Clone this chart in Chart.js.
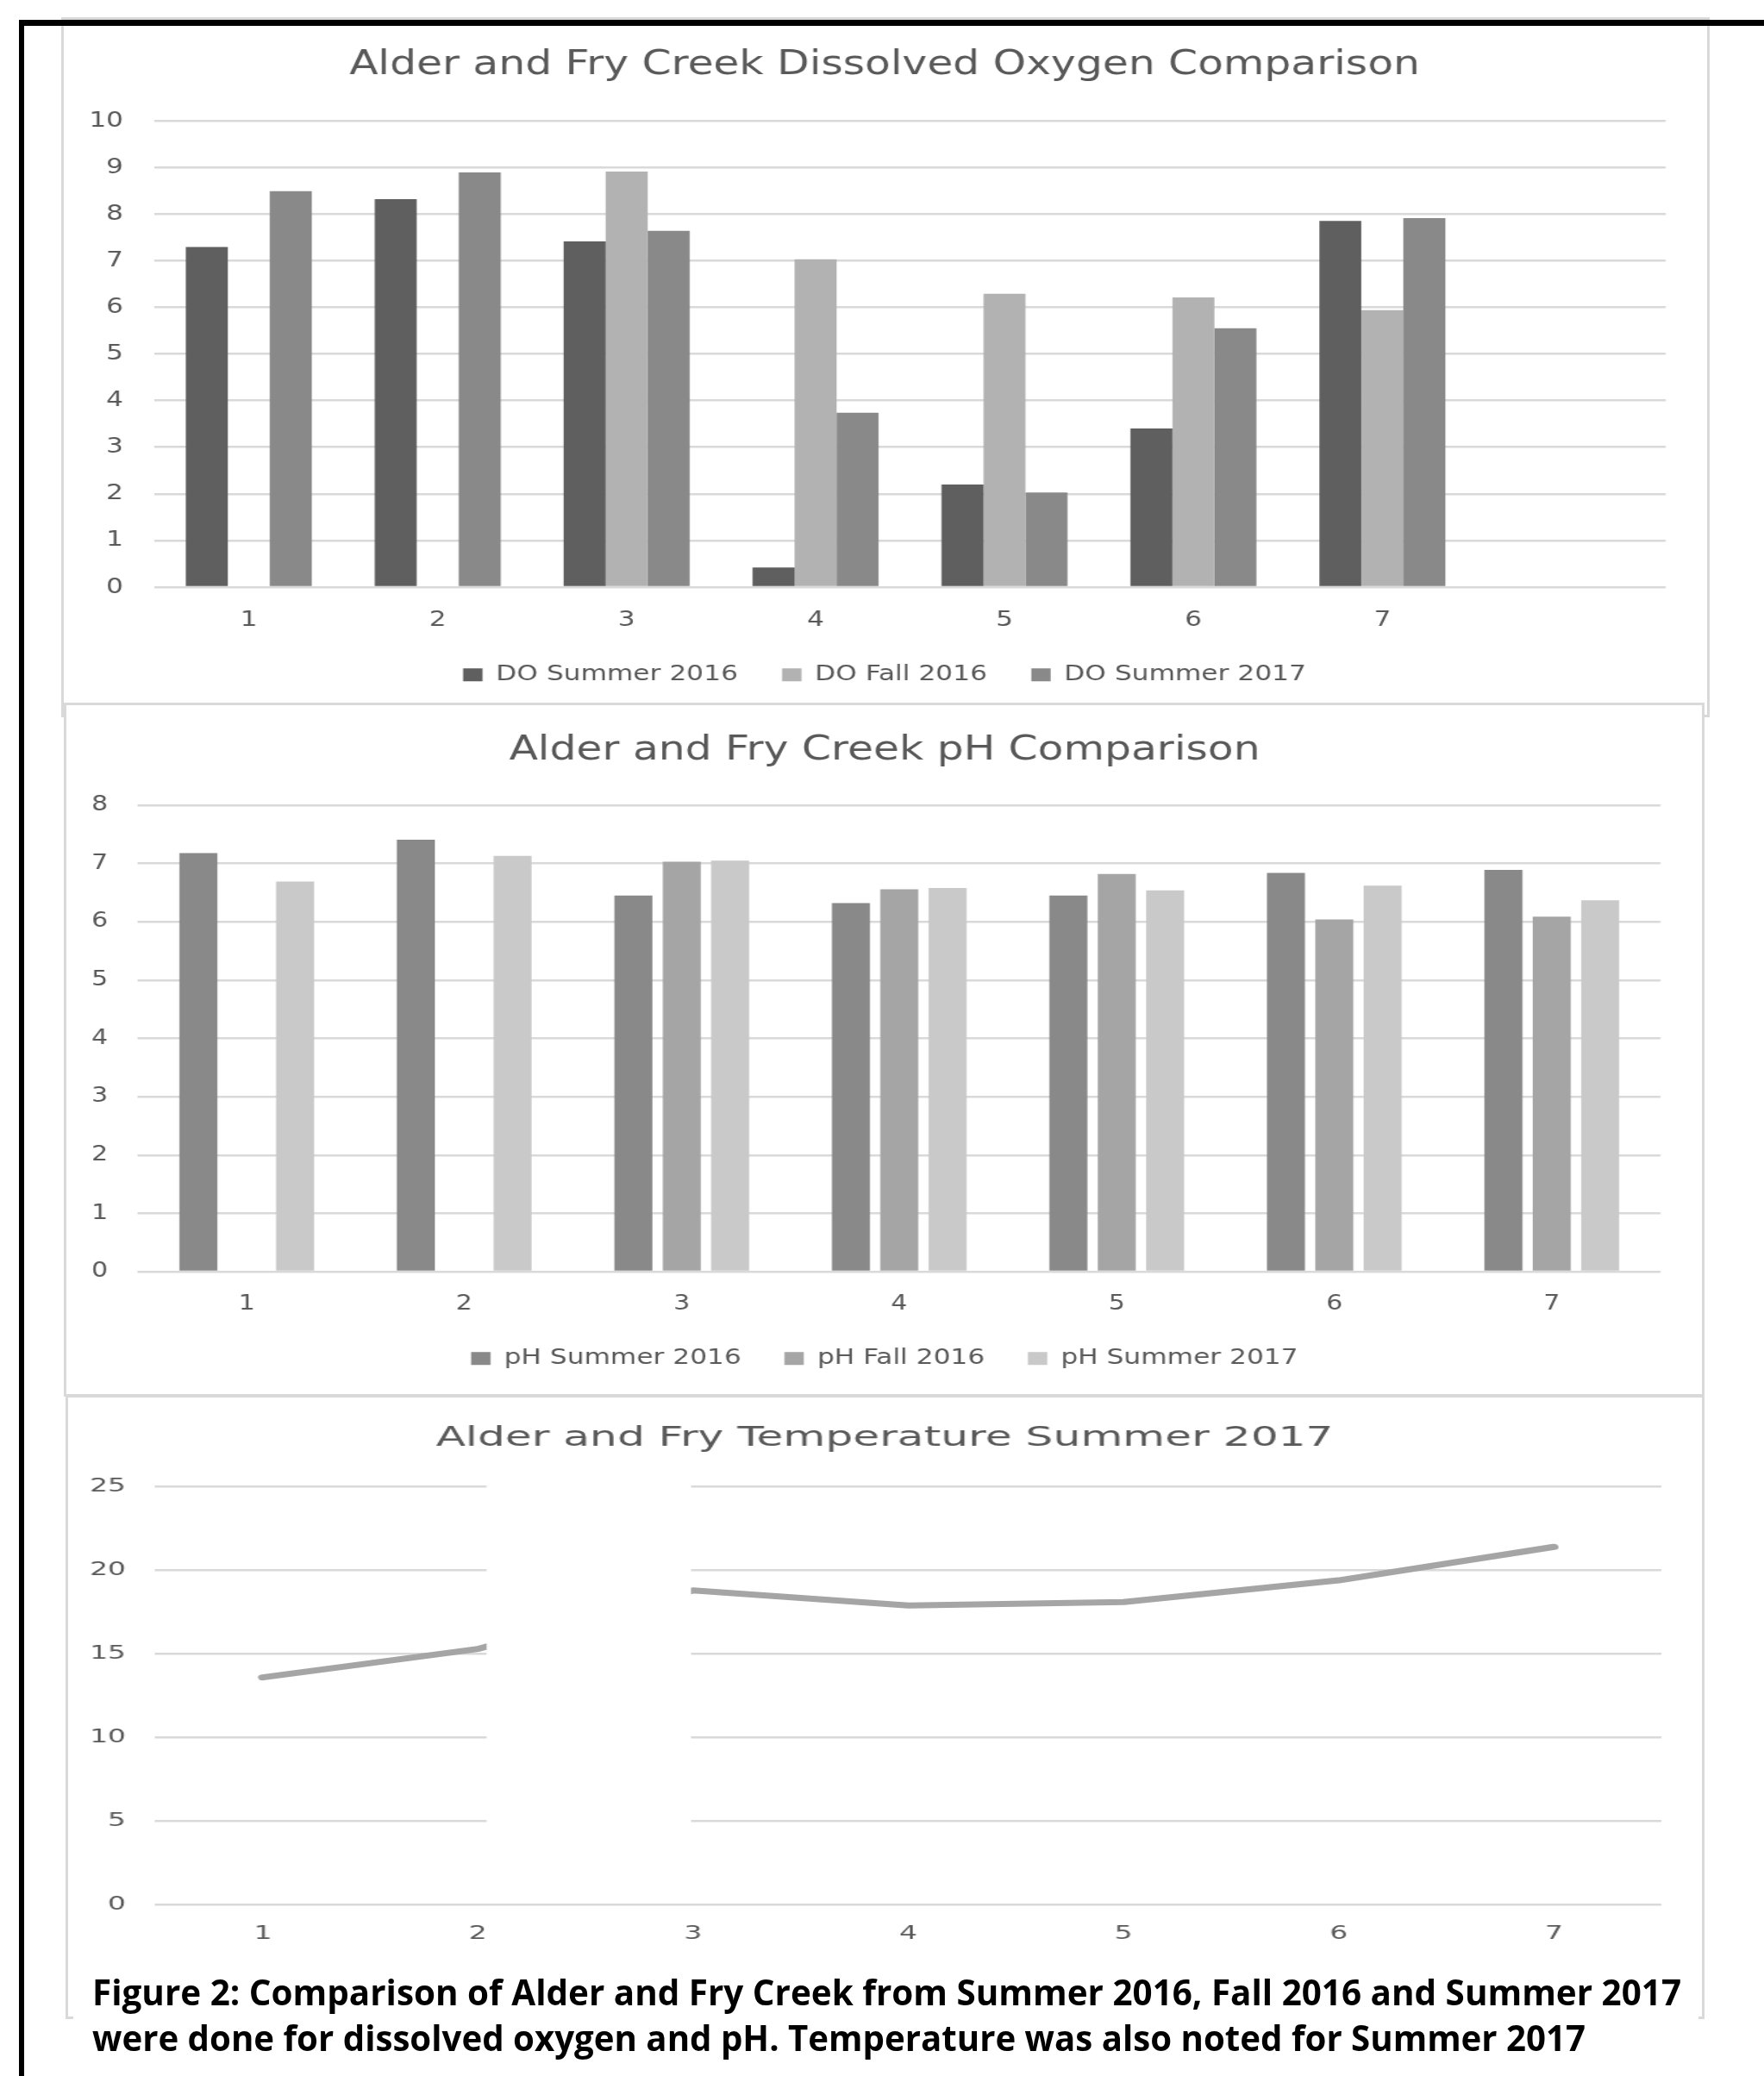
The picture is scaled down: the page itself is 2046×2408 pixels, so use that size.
<!DOCTYPE html>
<html>
<head>
<meta charset="utf-8">
<script src="https://cdn.jsdelivr.net/npm/chart.js@4.4.1/dist/chart.umd.min.js"></script>
<style>
  html, body { margin: 0; padding: 0; background: #fff; }
  body { width: 2046px; height: 2408px; position: relative; overflow: hidden; }
  .box { position: absolute; box-sizing: border-box; border: 3px solid #d9d9d9; background: #fff; overflow: hidden; }
  .box canvas { position: absolute; left: 0; top: 0; transform-origin: 0 0; }
  #frameTop { position: absolute; left: 22px; top: 23px; width: 2024px; height: 7px; background: #000; z-index: 10; }
  #frameLeft { position: absolute; left: 22px; top: 23px; width: 6px; height: 2385px; background: #000; z-index: 10; }
  #caption { position: absolute; left: 85px; top: 2284px; width: 1885px; height: 124px; background: #fff; z-index: 5;
             font-family: "Open Sans", sans-serif; font-weight: 700; font-size: 42px; line-height: 42px; color: #000; }
  #caption span { position: absolute; left: 22px; white-space: nowrap; transform-origin: 0 0; }
</style>
</head>
<body>
<div class="box" id="boxDO" style="z-index:1"></div>
<div class="box" id="boxPH" style="z-index:2"></div>
<div class="box" id="boxTemp" style="z-index:3"></div>
<div id="caption">
  <span id="cap1" style="top:5px">Figure 2: Comparison of Alder and Fry Creek from Summer 2016, Fall 2016 and Summer 2017</span>
  <span id="cap2" style="top:58px">were done for dissolved oxygen and pH. Temperature was also noted for Summer 2017</span>
</div>
<div id="frameTop"></div>
<div id="frameLeft"></div>

<script>
// ---- data ----
const doSites = ["1", "2", "3", "4", "5", "6", "7", ""];
const doSummer2016 = [7.29, 8.32, 7.41, 0.42, 2.20, 3.40, 7.85, null];
const doFall2016 = [null, null, 8.91, 7.03, 6.29, 6.21, 5.94, null];
const doSummer2017 = [8.49, 8.89, 7.64, 3.74, 2.03, 5.55, 7.91, null];
const doAxis = { max: 10, step: 1 };

const phSites = ["1", "2", "3", "4", "5", "6", "7"];
const phSummer2016 = [7.18, 7.41, 6.45, 6.32, 6.45, 6.84, 6.89];
const phFall2016 = [null, null, 7.03, 6.56, 6.82, 6.04, 6.09];
const phSummer2017 = [6.69, 7.13, 7.05, 6.58, 6.54, 6.62, 6.37];
const phAxis = { max: 8, step: 1 };

const tempSites = ["1", "2", "3", "4", "5", "6", "7"];
const tempSummer2017 = [13.6, 15.3, 18.8, 17.9, 18.1, 19.4, 21.4];
const tempAxis = { max: 25, step: 5 };

// ---- look ----
const FONT = "'DejaVu Sans', sans-serif";
const GRID = "#d9d9d9";
const TEXT = "#595959";
Chart.defaults.font.family = FONT;
Chart.defaults.color = TEXT;

// the source picture is stretched sideways, so each canvas is drawn narrow and widened
function setupBox(id, L) {
    const bw = 3;
    const box = document.getElementById(id);
    box.style.left = L.box[0] + "px";
    box.style.top = L.box[1] + "px";
    box.style.width = L.box[2] + "px";
    box.style.height = L.box[3] + "px";

    const innerX = L.box[0] + bw, innerY = L.box[1] + bw;
    const innerW = L.box[2] - 2 * bw, innerH = L.box[3] - 2 * bw;
    const cw = Math.round(innerW / L.stretch);
    const s = innerW / cw;

    const canvas = document.createElement("canvas");
    canvas.width = cw;
    canvas.height = innerH;
    canvas.style.width = cw + "px";
    canvas.style.height = innerH + "px";
    canvas.style.transform = "scaleX(" + s + ")";
    box.appendChild(canvas);

    const m = 0.03;
    const rightPad = (innerX + innerW - L.plot.right) / s;
    const leftPad = 2 * (L.titleX - innerX) / s - cw + rightPad;
    const yWidth = (L.plot.left - innerX) / s - leftPad;
    const plotTop = L.plot.top - innerY;
    const plotBottom = L.plot.bottom - innerY;

    const tlh = L.titleSize * 1.2;
    const titleTop = (L.titleY - innerY) + m * L.titleSize - tlh / 2;
    const titleBottom = plotTop - titleTop - tlh;

    const yPad = (L.plot.left - L.yLabelRight) / s;
    const xPad = (L.xLabelY - innerY) + m * L.tickSize - plotBottom - 0.6 * L.tickSize;
    let xHeight = xPad + 1.2 * L.tickSize;
    let bottomPad;
    if (L.legendY) {
        const legendH = L.legendSize + L.legendPad + 10;
        const legendTop = (L.legendY - innerY) + m * L.legendSize - L.legendPad - L.legendSize / 2;
        xHeight = legendTop - plotBottom;
        bottomPad = innerH - legendTop - legendH;
    } else {
        bottomPad = innerH - plotBottom - xHeight;
    }
    return { canvas, leftPad, rightPad, bottomPad, titleTop, titleBottom, yWidth, yPad, xPad, xHeight };
}

function baseOptions(L, g, title, axis, legend) {
    return {
        responsive: false,
        animation: false,
        devicePixelRatio: 1,
        layout: { padding: { left: g.leftPad, right: g.rightPad, top: 0, bottom: g.bottomPad } },
        plugins: {
            title: {
                display: true,
                text: title,
                color: TEXT,
                font: { size: L.titleSize, weight: "normal" },
                padding: { top: g.titleTop, bottom: g.titleBottom }
            },
            legend: legend ? {
                display: true,
                position: "bottom",
                labels: {
                    color: TEXT,
                    font: { size: L.legendSize },
                    boxWidth: 18,
                    boxHeight: 15,
                    padding: L.legendPad
                }
            } : { display: false },
            tooltip: { enabled: false }
        },
        scales: {
            x: {
                grid: { display: false, drawTicks: false, tickLength: 0 },
                border: { display: false },
                ticks: { color: TEXT, font: { size: L.tickSize }, padding: g.xPad, maxRotation: 0, autoSkip: false },
                afterFit: sc => { sc.height = g.xHeight; }
            },
            y: {
                min: 0,
                max: axis.max,
                grid: { color: GRID, lineWidth: 2.5, drawTicks: false, tickLength: 0 },
                border: { display: false },
                ticks: { stepSize: axis.step, color: TEXT, font: { size: L.tickSize }, padding: g.yPad },
                afterFit: sc => {
                    sc.width = g.yWidth;
                    // labels reach into the left padding, don't clip them to the axis box
                    sc._computeLabelArea = () => null;
                }
            }
        }
    };
}

// ---- chart 1: dissolved oxygen ----
const doLayout = {
    box: [71, 20, 1912, 812], stretch: 1.25,
    plot: { left: 179, right: 1932, top: 140, bottom: 681 },
    titleX: 1026, titleY: 74.5, titleSize: 39,
    tickSize: 25, yLabelRight: 143, xLabelY: 719,
    legendY: 782, legendSize: 25, legendPad: 41
};
const gDO = setupBox("boxDO", doLayout);
const doOpts = baseOptions(doLayout, gDO, "Alder and Fry Creek Dissolved Oxygen Comparison", doAxis, true);
new Chart(gDO.canvas, {
    type: "bar",
    data: {
        labels: doSites,
        datasets: [
            { label: "DO Summer 2016", data: doSummer2016, backgroundColor: "#5f5f5f" },
            { label: "DO Fall 2016", data: doFall2016, backgroundColor: "#b2b2b2" },
            { label: "DO Summer 2017", data: doSummer2017, backgroundColor: "#898989" }
        ]
    },
    options: Object.assign(doOpts, {
        datasets: { bar: { categoryPercentage: 0.667, barPercentage: 1.0, borderWidth: 0 } }
    })
});

// ---- chart 2: pH ----
const phLayout = {
    box: [74, 815, 1903, 805], stretch: 1.25,
    plot: { left: 160, right: 1926, top: 934, bottom: 1475 },
    titleX: 1026, titleY: 870, titleSize: 39,
    tickSize: 24, yLabelRight: 125, xLabelY: 1512,
    legendY: 1575, legendSize: 25, legendPad: 40
};
const gPH = setupBox("boxPH", phLayout);
const phOpts = baseOptions(phLayout, gPH, "Alder and Fry Creek pH Comparison", phAxis, true);
new Chart(gPH.canvas, {
    type: "bar",
    data: {
        labels: phSites,
        datasets: [
            { label: "pH Summer 2016", data: phSummer2016, backgroundColor: "#898989" },
            { label: "pH Fall 2016", data: phFall2016, backgroundColor: "#a5a5a5" },
            { label: "pH Summer 2017", data: phSummer2017, backgroundColor: "#c9c9c9" }
        ]
    },
    options: Object.assign(phOpts, {
        datasets: { bar: { categoryPercentage: 0.667, barPercentage: 0.786, borderWidth: 0 } }
    })
});

// ---- chart 3: temperature ----
// white patch that hides part of the plot in the source picture
const gapMask = {
    id: "gapMask",
    afterDatasetsDraw(chart) {
        const { ctx, scales: { x, y } } = chart;
        const x1 = x.getPixelForValue(1.04), x2 = x.getPixelForValue(1.99);
        const y1 = y.getPixelForValue(26.5), y2 = y.getPixelForValue(1.5);
        ctx.save();
        ctx.fillStyle = "#fff";
        ctx.fillRect(x1, y1, x2 - x1, y2 - y1);
        ctx.restore();
    }
};

const tempLayout = {
    box: [76, 1618, 1901, 724], stretch: 1.57,
    plot: { left: 180, right: 1927, top: 1724.4, bottom: 2209.5 },
    titleX: 1026, titleY: 1667.5, titleSize: 32,
    tickSize: 21, yLabelRight: 146, xLabelY: 2243,
    legendY: null
};
const gT = setupBox("boxTemp", tempLayout);
const tOpts = baseOptions(tempLayout, gT, "Alder and Fry Temperature Summer 2017", tempAxis, false);
tOpts.scales.x.offset = true;
new Chart(gT.canvas, {
    type: "line",
    data: {
        labels: tempSites,
        datasets: [
            {
                label: "Temperature Summer 2017",
                data: tempSummer2017,
                borderColor: "#a5a5a5",
                borderWidth: 7,
                borderCapStyle: "round",
                borderJoinStyle: "round",
                pointRadius: 0,
                tension: 0,
                fill: false
            }
        ]
    },
    options: tOpts,
    plugins: [gapMask]
});

// ---- caption: squeeze each line to the width it has in the figure ----
function fitLine(id, width) {
    const el = document.getElementById(id);
    el.style.transform = "";
    el.style.transform = "scaleX(" + (width / el.getBoundingClientRect().width) + ")";
}
fitLine("cap1", 1843);
fitLine("cap2", 1732);
document.fonts.ready.then(() => {
    fitLine("cap1", 1843);
    fitLine("cap2", 1732);
});
</script>
</body>
</html>
